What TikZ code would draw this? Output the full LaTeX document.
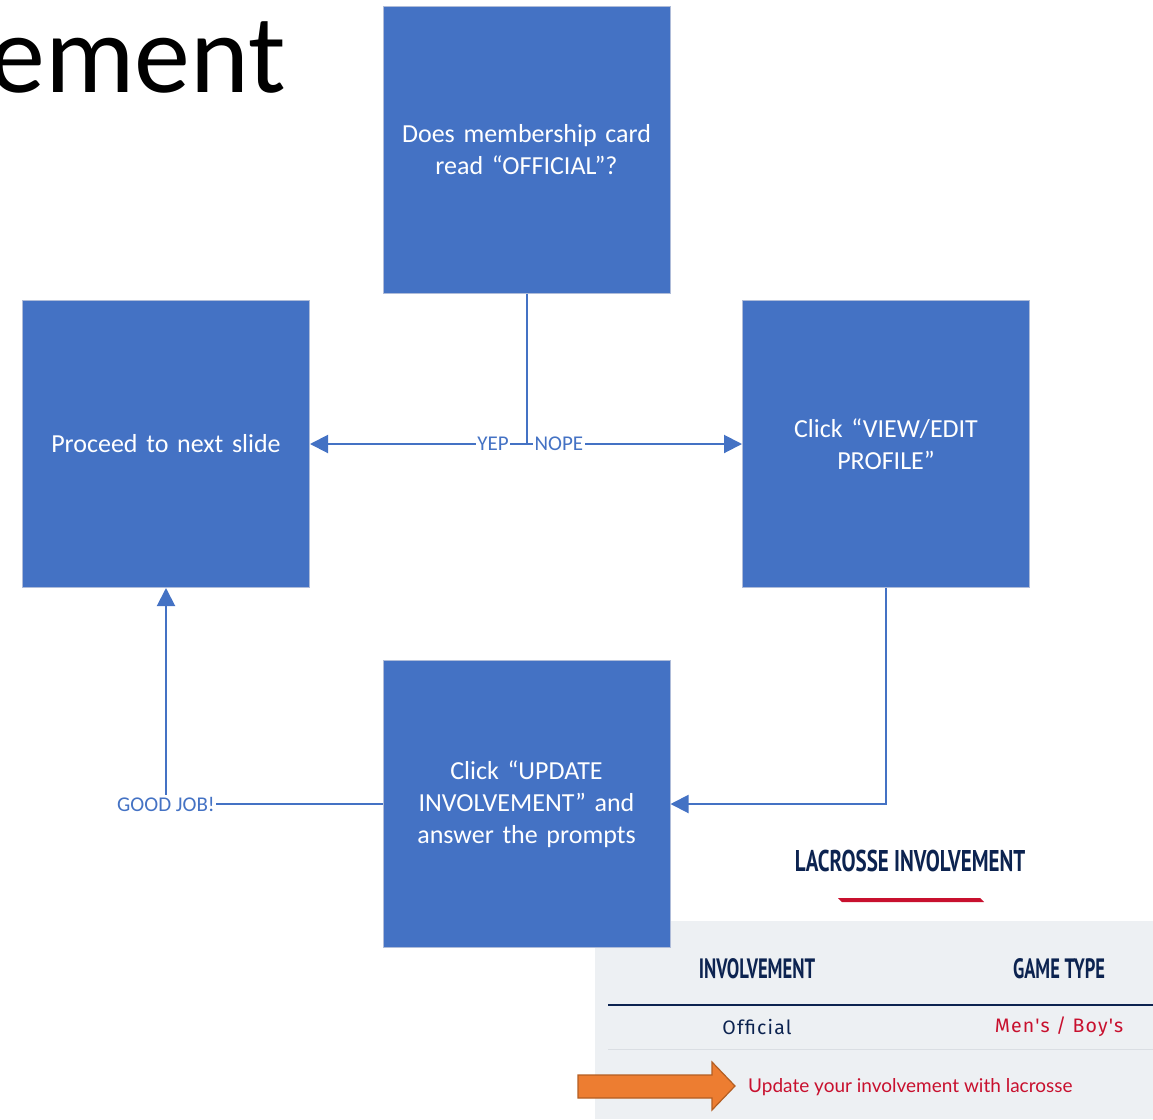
\documentclass[tikz,border=0pt]{standalone}
\usepackage{fontspec}
\setmainfont{Carlito}
\newfontfamily\headfont{PT Sans}
\newfontfamily\uifont[LetterSpace=6]{Fira Sans}
\newfontfamily\webfont{Lato}
\usetikzlibrary{arrows.meta}
\definecolor{boxblue}{HTML}{4472C4}
\definecolor{boxedge}{HTML}{AFBCD9}
\definecolor{navy}{HTML}{0C2350}
\definecolor{webred}{HTML}{C8102E}
\definecolor{panel}{HTML}{EDF0F3}
\definecolor{thinline}{HTML}{DADEE3}
\definecolor{orangefill}{HTML}{ED7D31}
\definecolor{orangeedge}{HTML}{B35E22}
\tikzset{
  flowbox/.style={draw=boxedge, line width=1pt, fill=boxblue, minimum width=287pt, minimum height=287pt,
    text width=270pt, align=center, text=white, inner sep=0pt,
    font=\fontsize{26}{32}\selectfont},
  conn/.style={draw=boxblue, line width=2pt},
  arr/.style={conn, -{Triangle[length=18pt,width=18pt]}},
  lab/.style={fill=white, inner sep=1.5pt, text=boxblue, font=\fontsize{21}{22}\selectfont},
  headtxt/.style={text=navy, inner sep=0pt},
}
\begin{document}
\begin{tikzpicture}[x=1pt,y=-1pt]
\useasboundingbox (0,0) rectangle (1153,1119);
\begin{scope}
\clip (0,0) rectangle (1153,1119);
% title fragment
\node[anchor=base east, inner sep=0pt, font=\fontsize{112}{120}\selectfont] (title) at (286,92) {ement};
% web screenshot panel
\fill[panel] (595,921) rectangle (1153,1119);
\node[headtxt] (lacr) at (910,861) {\scalebox{0.70}[1]{\headfont\bfseries\fontsize{30}{32}\selectfont LACROSSE INVOLVEMENT}};
\fill[webred] (838,898) -- (980,898) -- (984,902) -- (842,902) -- cycle;
\node[headtxt] (colA) at (757,969) {\scalebox{0.665}[1]{\headfont\bfseries\fontsize{28}{30}\selectfont INVOLVEMENT}};
\node[headtxt] (colB) at (1059,969) {\scalebox{0.66}[1]{\headfont\bfseries\fontsize{28}{30}\selectfont GAME TYPE}};
\draw[navy, line width=2pt] (608,1005) -- (1153,1005);
\node[text=navy, inner sep=0pt, font=\uifont\fontsize{19.5}{22}\selectfont] (off) at (757,1027) {Official};
\node[text=webred, inner sep=0pt, font=\uifont\fontsize{19.5}{22}\selectfont] (mens) at (1059,1027) {Men's / Boy's};
\draw[thinline, line width=1pt] (608,1049) -- (1153,1049);
\node[text=webred, anchor=west, inner sep=0pt, font=\webfont\fontsize{19}{22}\selectfont] (upd) at (748,1087) {Update your involvement with lacrosse};
\draw[fill=orangefill, draw=orangeedge, line width=1.2pt, line join=miter]
  (578,1075) -- (712,1075) -- (712,1062) -- (735,1086) -- (712,1110) -- (712,1098) -- (578,1098) -- cycle;
\end{scope}
% flow boxes
\node[flowbox] (q) at (526.5,149.5) {Does membership card\\read “OFFICIAL”?};
\node[flowbox] (next) at (166,444) {Proceed to next slide};
\node[flowbox] (view) at (886,444) {Click “VIEW/EDIT\\PROFILE”};
\node[flowbox] (upd2) at (526.5,804) {Click “UPDATE\\INVOLVEMENT” and\\answer the prompts};
% connectors
\coordinate (j) at (q.south |- next.east);
\draw[conn] (q.south) -- (j);
\draw[arr] (j) -- node[lab, pos=0.155] {YEP} (next.east);
\draw[arr] (j) -- node[lab, pos=0.15] {NOPE} (view.west);
\draw[arr] (view.south) |- (upd2.east);
\draw[arr] (upd2.west) -| node[lab, pos=0.5] {GOOD JOB!} (next.south);
\end{tikzpicture}
\end{document}
